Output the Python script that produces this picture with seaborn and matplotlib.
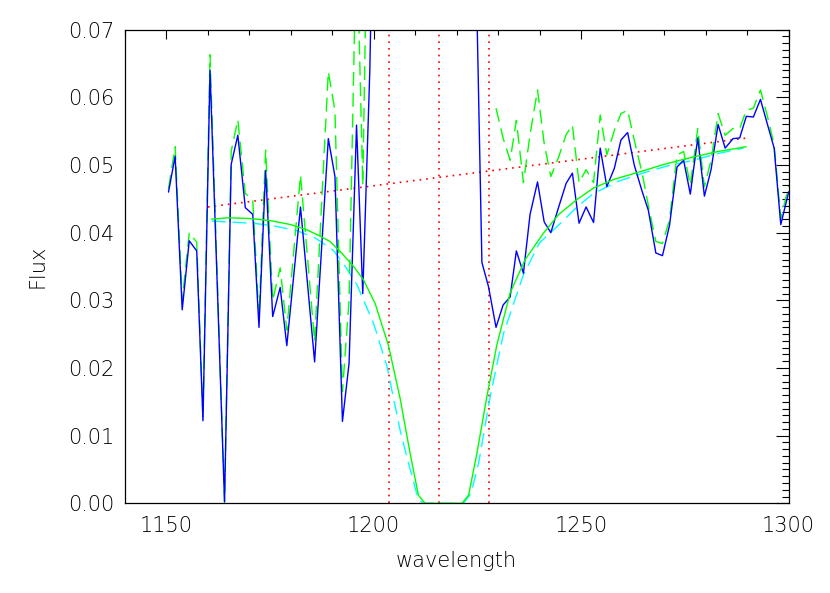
import numpy as np
import pandas as pd
import matplotlib
matplotlib.use("Agg")
import matplotlib.pyplot as plt
from matplotlib.ticker import MultipleLocator, FormatStrFormatter
import seaborn as sns

# ---------------- data ----------------
flux_x = [1150.6, 1152.2, 1153.9, 1155.6, 1157.4, 1158.9, 1160.6, 1164.1, 1165.7, 1167.3,
          1169.1, 1170.9, 1172.4, 1174.0, 1175.7, 1177.5, 1179.1, 1182.4, 1185.8, 1189.1,
          1190.7, 1192.5, 1194.1, 1195.9, 1197.4, 1199.1, 1200.8, 1205.0, 1215.0, 1222.0,
          1224.5, 1226.1, 1227.7, 1229.5, 1231.2, 1232.9, 1234.4, 1236.1, 1237.7, 1239.5,
          1241.1, 1242.7, 1244.6, 1246.4, 1247.9, 1249.5, 1251.2, 1253.0, 1254.6, 1256.2,
          1258.0, 1259.6, 1261.2, 1262.8, 1264.7, 1266.2, 1268.0, 1269.6, 1271.3, 1273.1,
          1274.7, 1276.3, 1278.1, 1279.7, 1281.3, 1283.0, 1284.7, 1286.6, 1288.2, 1289.8,
          1291.5, 1293.2, 1294.8, 1296.5, 1298.1, 1300.0, 1301.6]
flux_y = [0.0460, 0.0513, 0.0286, 0.0388, 0.0373, 0.0122, 0.0640, 0.0002, 0.0501, 0.0544,
          0.0437, 0.0427, 0.0260, 0.0492, 0.0276, 0.0319, 0.0233, 0.0438, 0.0209, 0.0539,
          0.0483, 0.0121, 0.0207, 0.0559, 0.0310, 0.0640, 0.1200, 0.2000, 0.3000, 0.2000,
          0.0850, 0.0356, 0.0320, 0.0260, 0.0293, 0.0305, 0.0373, 0.0340, 0.0427, 0.0475,
          0.0416, 0.0400, 0.0438, 0.0473, 0.0488, 0.0414, 0.0438, 0.0415, 0.0525, 0.0468,
          0.0495, 0.0537, 0.0548, 0.0500, 0.0461, 0.0433, 0.0370, 0.0366, 0.0411, 0.0497,
          0.0507, 0.0457, 0.0540, 0.0454, 0.0493, 0.0560, 0.0525, 0.0539, 0.0540, 0.0572,
          0.0571, 0.0597, 0.0562, 0.0525, 0.0412, 0.0460, 0.0470]

corr_left_x = [1150.6, 1152.2, 1153.9, 1155.6, 1157.4, 1158.9, 1160.6, 1164.1, 1165.7, 1167.3,
               1169.1, 1170.9, 1172.4, 1174.0, 1175.7, 1177.5, 1179.1, 1182.4, 1185.8, 1189.1,
               1190.7, 1192.5, 1194.1, 1195.9, 1197.4, 1199.1, 1200.8]
corr_left_y = [0.0465, 0.0527, 0.0300, 0.0400, 0.0386, 0.0127, 0.0663, 0.0002, 0.0520, 0.0567,
               0.0458, 0.0448, 0.0275, 0.0522, 0.0300, 0.0348, 0.0256, 0.0485, 0.0239, 0.0638,
               0.0580, 0.0165, 0.0300, 0.0850, 0.0470, 0.1100, 0.2000]
corr_right_x = [1229.5, 1231.2, 1232.9, 1234.4, 1236.1, 1237.7, 1239.5, 1241.1, 1242.7, 1244.6,
                1246.4, 1247.9, 1249.5, 1251.2, 1253.0, 1254.6, 1256.2, 1258.0, 1259.6, 1261.2,
                1262.8, 1264.7, 1266.2, 1268.0, 1269.6, 1271.3, 1273.1, 1274.7, 1276.3, 1278.1,
                1279.7, 1281.3, 1283.0, 1284.7, 1286.6, 1288.2, 1289.8, 1291.5, 1293.2, 1294.8,
                1296.5, 1298.1, 1300.0, 1301.6]
corr_right_y = [0.0584, 0.0540, 0.0507, 0.0566, 0.0474, 0.0545, 0.0611, 0.0532, 0.0483, 0.0512,
                0.0545, 0.0559, 0.0474, 0.0493, 0.0474, 0.0574, 0.0515, 0.0551, 0.0576, 0.0581,
                0.0537, 0.0488, 0.0440, 0.0387, 0.0384, 0.0419, 0.0515, 0.0520, 0.0470, 0.0554,
                0.0468, 0.0507, 0.0576, 0.0544, 0.0554, 0.0554, 0.0581, 0.0584, 0.0611, 0.0574,
                0.0530, 0.0421, 0.0468, 0.0470]

model_x = [1161.0, 1165.0, 1170.0, 1175.0, 1180.0, 1184.0, 1187.1, 1189.5, 1192.0, 1195.2,
           1197.6, 1200.4, 1203.6, 1206.4, 1208.8, 1210.8, 1212.4, 1221.3, 1222.9, 1224.9,
           1227.3, 1229.7, 1232.9, 1236.5, 1240.9, 1244.6, 1249.0, 1253.0, 1258.0, 1264.2,
           1270.0, 1277.1, 1283.0, 1289.8]
model_y = [0.0420, 0.0422, 0.0421, 0.0418, 0.0412, 0.0404, 0.0395, 0.0387, 0.0372, 0.0350,
           0.0330, 0.0295, 0.0233, 0.0155, 0.0074, 0.0012, 0.0000, 0.0000, 0.0012, 0.0074,
           0.0158, 0.0234, 0.0311, 0.0360, 0.0399, 0.0427, 0.0449, 0.0466, 0.0479, 0.0490,
           0.0501, 0.0512, 0.0520, 0.0527]

fit_x = [1161.0, 1171.0, 1176.0, 1181.5, 1186.0, 1190.3, 1193.0, 1196.0, 1200.0, 1203.2,
         1206.4, 1208.0, 1210.8, 1212.0, 1221.7, 1223.5, 1225.3, 1228.1, 1231.3, 1236.1,
         1240.0, 1244.2, 1249.0, 1253.0, 1259.0, 1265.9, 1271.0, 1277.1, 1283.0, 1289.1]
fit_y = [0.0417, 0.0414, 0.0410, 0.0403, 0.0392, 0.0374, 0.0352, 0.0323, 0.0266, 0.0203,
         0.0108, 0.0069, 0.0005, 0.0000, 0.0000, 0.0015, 0.0059, 0.0158, 0.0251, 0.0338,
         0.0385, 0.0409, 0.0438, 0.0458, 0.0476, 0.0490, 0.0499, 0.0507, 0.0517, 0.0525]

cont_x = [1160.1, 1290.0]
cont_y = [0.0438, 0.0540]

line_marks = [1203.7, 1215.7, 1227.7]

x_ticks = [1150, 1200, 1250, 1300]
y_ticks = [0.00, 0.01, 0.02, 0.03, 0.04, 0.05, 0.06, 0.07]

# ---------------- style ----------------
sns.set_theme(style="white")
plt.rcParams["font.family"] = ["DejaVu Sans"]
plt.rcParams["font.weight"] = 200
plt.rcParams["axes.edgecolor"] = "black"
plt.rcParams["axes.linewidth"] = 0.9

fig = plt.figure(figsize=(8.30, 5.93), dpi=100)
ax = fig.add_axes([0.150, 0.1513, 0.8002, 0.7986])

kw = dict(ax=ax, estimator=None, sort=False, legend=False)

sns.lineplot(data=pd.DataFrame({"x": cont_x, "y": cont_y}), x="x", y="y",
             color="#ff0000", lw=1.2, linestyle=(0, (1, 3)), **kw)
for xv in line_marks:
    ax.axvline(xv, color="#ff0000", lw=1.2, linestyle=(0, (1, 3)), zorder=1)

sns.lineplot(data=pd.DataFrame({"x": fit_x, "y": fit_y}), x="x", y="y",
             color="#00ffff", lw=1.0, linestyle=(0, (10, 5)), **kw)
sns.lineplot(data=pd.DataFrame({"x": corr_left_x, "y": corr_left_y}), x="x", y="y",
             color="#00ff00", lw=1.0, linestyle=(0, (10, 5)), **kw)
sns.lineplot(data=pd.DataFrame({"x": corr_right_x, "y": corr_right_y}), x="x", y="y",
             color="#00ff00", lw=1.0, linestyle=(0, (10, 5)), **kw)
sns.lineplot(data=pd.DataFrame({"x": flux_x, "y": flux_y}), x="x", y="y",
             color="#0000ff", lw=1.0, **kw)
sns.lineplot(data=pd.DataFrame({"x": model_x, "y": model_y}), x="x", y="y",
             color="#00ff00", lw=1.0, **kw)

ax.set_xlim(1140, 1300)
ax.set_ylim(0.0, 0.07)
ax.set_xticks(x_ticks)
ax.set_yticks(y_ticks)
ax.xaxis.set_minor_locator(MultipleLocator(10))
ax.yaxis.set_minor_locator(MultipleLocator(0.001))
ax.yaxis.set_major_formatter(FormatStrFormatter("%.2f"))

ax.tick_params(which="both", direction="in", top=True, right=True,
               colors="black", width=0.8, labelsize=15, labelcolor="black")
ax.tick_params(axis="x", which="major", length=6.8, pad=9)
ax.tick_params(axis="x", which="minor", length=3.4)
ax.tick_params(axis="y", which="major", length=9.5, pad=7)
ax.tick_params(axis="y", which="minor", length=4.7)
for lab in ax.get_xticklabels() + ax.get_yticklabels():
    lab.set_fontweight(200)

for s in ax.spines.values():
    s.set_visible(True)
    s.set_color("black")
    s.set_linewidth(0.9)

ax.set_xlabel("wavelength", fontsize=15, fontweight=200, color="black", labelpad=11)
ax.set_ylabel("Flux", fontsize=15, fontweight=200, color="black", labelpad=15)

fig.savefig("out.png", dpi=100)
